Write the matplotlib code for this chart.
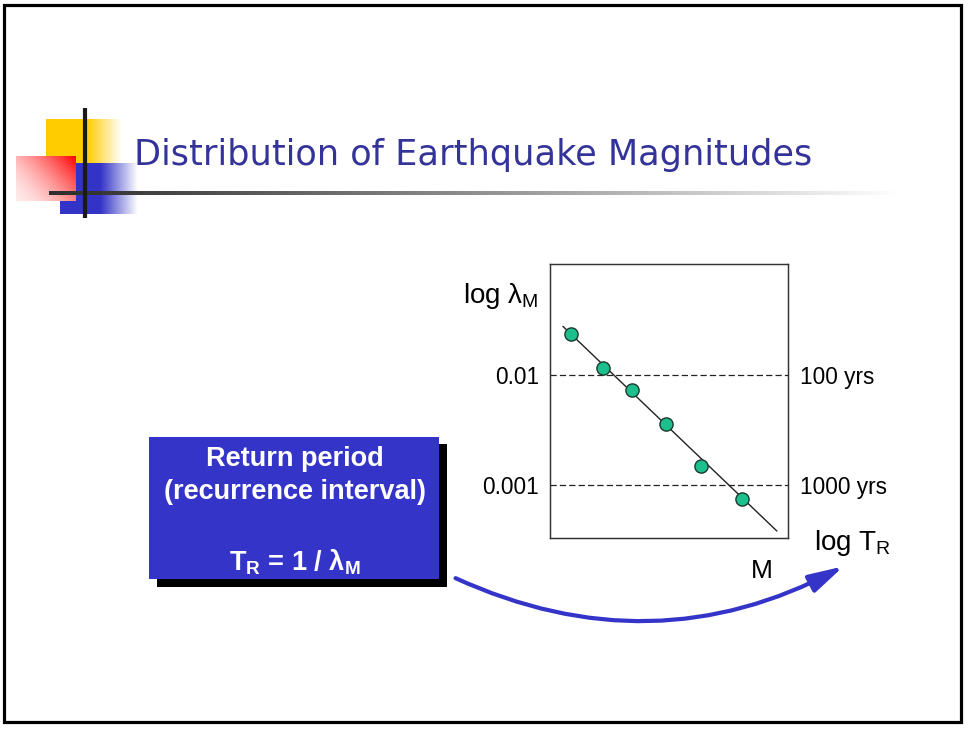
import numpy as np
import matplotlib
matplotlib.use("Agg")
import matplotlib.pyplot as plt
from matplotlib.patches import Rectangle, FancyArrowPatch

plt.rcParams['font.family'] = ['Liberation Sans', 'DejaVu Sans']
plt.rcParams['mathtext.fontset'] = 'custom'
plt.rcParams['mathtext.rm'] = 'Liberation Sans'
plt.rcParams['mathtext.default'] = 'regular'

# Observed annual exceedance rates against magnitude
magnitude = [4.36, 4.89, 5.37, 5.95, 6.54, 7.22]
annual_rate = [0.0234, 0.0115, 0.00728, 0.00356, 0.00148, 0.000753]

# Gutenberg-Richter fit: log10(rate) = a - b*M
gr_a = 0.606
gr_b = 0.5145
fit_range = [4.22, 7.81]

# Reference rate levels and the matching return periods
rate_levels = [0.01, 0.001]
rate_labels = ['0.01', '0.001']
period_labels = ['100 yrs', '1000 yrs']

TITLE = 'Distribution of Earthquake Magnitudes'
BLUE = '#3434c8'
TITLE_BLUE = '#333399'

W, H = 965, 729
fig = plt.figure(figsize=(W / 100, H / 100), dpi=100)

# Slide canvas in pixel units
bg = fig.add_axes([0, 0, 1, 1])
bg.set_xlim(0, W)
bg.set_ylim(H, 0)
bg.axis('off')

bg.add_patch(Rectangle((4, 5), 957, 717, fill=False, lw=2.3, ec='black', zorder=10))


def gradient_block(ax, extent, rgb, alpha_fn, z):
    x0, x1, y0, y1 = extent
    nx, ny = 200, 60
    xs = np.linspace(0, 1, nx)
    ys = np.linspace(0, 1, ny)
    X, Y = np.meshgrid(xs, ys)
    t = np.clip(alpha_fn(X, Y), 0, 1)
    img = np.ones((ny, nx, 3))
    for i in range(3):
        img[..., i] = 1 - t * (1 - rgb[i])
    ax.imshow(img, extent=(x0, x1, y1, y0), origin='upper', aspect='auto',
              interpolation='bilinear', zorder=z)


# Title decoration blocks
yellow = (1.0, 0.8, 0.0)
red = (1.0, 0.0, 0.0)
blue_rgb = (0x34 / 255, 0x34 / 255, 0xc8 / 255)
gradient_block(bg, (46, 122, 119, 164), yellow,
               lambda X, Y: np.where(X < 0.54, 1.0, 1 - (X - 0.54) / 0.46), 1)
gradient_block(bg, (60, 138, 163, 214), blue_rgb,
               lambda X, Y: np.where(X < 0.52, 1.0, 1 - (X - 0.52) / 0.48), 2)
gradient_block(bg, (16, 76, 156, 201), red,
               lambda X, Y: 0.08 + 0.92 * (0.6 * X + 0.4 * (1 - Y)) ** 1.6, 3)

# Rule under the title, fading to the right
strip = np.linspace(0, 1, 400)
rule = np.ones((1, 400, 3))
shade = 0.18 + 0.82 * strip ** 1.1
for i in range(3):
    rule[..., i] = shade
bg.imshow(rule, extent=(49, 900, 195, 191), aspect='auto', interpolation='bilinear', zorder=4)
bg.plot([85, 85], [108, 218], color='#1a1a1a', lw=3, solid_capstyle='butt', zorder=5)

bg.text(473, 155, TITLE, fontsize=25.3, color=TITLE_BLUE, family='DejaVu Sans',
        ha='center', va='center', zorder=6)

# Return-period box with drop shadow
bg.add_patch(Rectangle((157, 444), 290, 143, fc='black', ec='none', zorder=2))
bg.add_patch(Rectangle((149, 437), 290, 142, fc=BLUE, ec='none', zorder=3))
box_font = dict(color='white', fontsize=19.5, fontweight='bold', ha='center', va='center', zorder=4)
bg.text(295, 459, 'Return period', **box_font)
bg.text(295, 492, '(recurrence interval)', **box_font)
bg.text(295, 562, r'T$_\mathregular{R}$ = 1 / λ$_\mathregular{M}$', **box_font)

# Curved arrow from the box to the return-period axis
arrow = FancyArrowPatch((453, 577), (846, 565), connectionstyle='arc3,rad=0.25',
                        arrowstyle='-|>,head_length=1.5,head_width=0.4', mutation_scale=14,
                        color=BLUE, lw=3, zorder=5)
bg.add_patch(arrow)

# Recurrence plot
ax = fig.add_axes([550 / W, 1 - 538 / H, 238 / W, 274 / H])
ax.set_yscale('log')
ax.set_xlim(4, 8)
ax.set_ylim(10 ** -3.477, 0.1)

fit_m = np.array(fit_range)
ax.plot(fit_m, 10 ** (gr_a - gr_b * fit_m), color='#222222', lw=1.0, zorder=2)
ax.plot(magnitude, annual_rate, 'o', ms=9.5, mfc='#1dbf8c', mec='#1a3a30', mew=1.0, zorder=3)
for lvl in rate_levels:
    ax.axhline(lvl, color='#222222', lw=0.9, ls=(0, (5, 2.5)), zorder=1)

ax.set_xticks([])
ax.yaxis.set_minor_locator(matplotlib.ticker.NullLocator())
ax.set_yticks(rate_levels)
ax.set_yticklabels(rate_labels, fontsize=16.3)
ax.tick_params(axis='y', length=0, pad=8)

ax_r = ax.twinx()
ax_r.set_yscale('log')
ax_r.set_ylim(ax.get_ylim())
ax_r.yaxis.set_minor_locator(matplotlib.ticker.NullLocator())
ax_r.set_yticks(rate_levels)
ax_r.set_yticklabels(period_labels, fontsize=16.3)
ax_r.tick_params(axis='y', length=0, pad=9)

for a in (ax, ax_r):
    for s in a.spines.values():
        s.set_color('#333333')
        s.set_linewidth(0.9)

bg.text(501, 296, r'log λ$_\mathregular{M}$', fontsize=20, ha='center', va='center')
bg.text(762, 571, 'M', fontsize=19, ha='center', va='center')
bg.text(853, 543, r'log T$_\mathregular{R}$', fontsize=20, ha='center', va='center')

fig.savefig('out.png', dpi=100)
